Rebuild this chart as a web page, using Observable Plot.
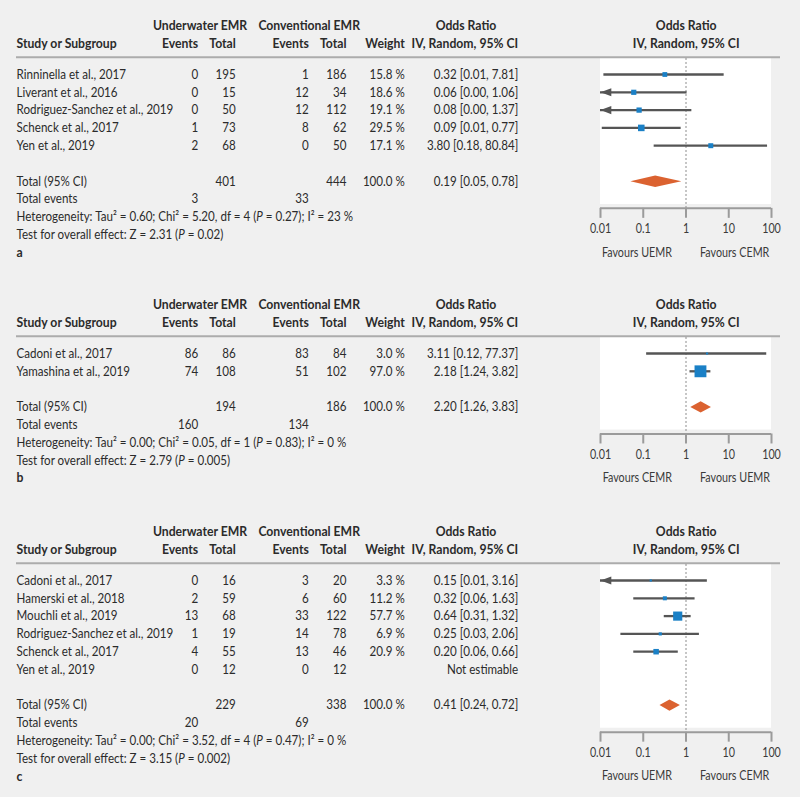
<!DOCTYPE html>
<html><head><meta charset="utf-8">
<script src="https://cdn.jsdelivr.net/npm/d3@7"></script>
<script src="https://cdn.jsdelivr.net/npm/@observablehq/plot@0.6"></script>
<style>
html,body{margin:0;padding:0;background:#f0f0f0;}
#chart{width:800px;}
#chart svg{display:block;}
</style></head><body><div id="chart"></div>
<script>
// ---------- data ----------
const xTicks = [0.01, 0.1, 1, 10, 100];
const xTickLabels = ["0.01", "0.1", "1", "10", "100"];

// panel a
const studiesA = ["Rinninella et al., 2017", "Liverant et al., 2016", "Rodriguez-Sanchez et al., 2019", "Schenck et al., 2017", "Yen et al., 2019"];
const uEventsA = [0, 0, 0, 1, 2];
const uTotalA = [195, 15, 50, 73, 68];
const cEventsA = [1, 12, 12, 8, 0];
const cTotalA = [186, 34, 112, 62, 50];
const weightA = [15.8, 18.6, 19.1, 29.5, 17.1];
const orA = [0.32, 0.06, 0.08, 0.09, 3.80];
const loA = [0.012, 0.003, 0.004, 0.011, 0.18];
const hiA = [7.81, 1.06, 1.37, 0.77, 80.84];
const totalsA = [401, 444];
const totalWeightA = 100.0;
const totalEventsA = [3, 33];
const pooledA = [0.19, 0.05, 0.78];
const hetA = "Heterogeneity: Tau² = 0.60; Chi² = 5.20, df = 4 (P = 0.27); I² = 23 %";
const testA = "Test for overall effect: Z = 2.31 (P = 0.02)";
const favoursA = ["Favours UEMR", "Favours CEMR"];

// panel b
const studiesB = ["Cadoni et al., 2017", "Yamashina et al., 2019"];
const uEventsB = [86, 74];
const uTotalB = [86, 108];
const cEventsB = [83, 51];
const cTotalB = [84, 102];
const weightB = [3.0, 97.0];
const orB = [3.11, 2.18];
const loB = [0.12, 1.24];
const hiB = [77.37, 3.82];
const totalsB = [194, 186];
const totalWeightB = 100.0;
const totalEventsB = [160, 134];
const pooledB = [2.20, 1.26, 3.83];
const hetB = "Heterogeneity: Tau² = 0.00; Chi² = 0.05, df = 1 (P = 0.83); I² = 0 %";
const testB = "Test for overall effect: Z = 2.79 (P = 0.005)";
const favoursB = ["Favours CEMR", "Favours UEMR"];

// panel c
const studiesC = ["Cadoni et al., 2017", "Hamerski et al., 2018", "Mouchli et al., 2019", "Rodriguez-Sanchez et al., 2019", "Schenck et al., 2017", "Yen et al., 2019"];
const uEventsC = [0, 2, 13, 1, 4, 0];
const uTotalC = [16, 59, 68, 19, 55, 12];
const cEventsC = [3, 6, 33, 14, 13, 0];
const cTotalC = [20, 60, 122, 78, 46, 12];
const weightC = [3.3, 11.2, 57.7, 6.9, 20.9, null];
const orC = [0.15, 0.32, 0.64, 0.25, 0.20, null];
const loC = [0.007, 0.06, 0.31, 0.03, 0.06, null];
const hiC = [3.16, 1.63, 1.32, 2.06, 0.66, null];
const totalsC = [229, 338];
const totalWeightC = 100.0;
const totalEventsC = [20, 69];
const pooledC = [0.41, 0.24, 0.72];
const hetC = "Heterogeneity: Tau² = 0.00; Chi² = 3.52, df = 4 (P = 0.47); I² = 0 %";
const testC = "Test for overall effect: Z = 3.15 (P = 0.002)";
const favoursC = ["Favours UEMR", "Favours CEMR"];

// ---------- layout ----------
const ML = 16, MR = 20, ROW0 = 74, STEP = 17.8;
const H1 = -2.76, H2 = -1.74;
const COL = {study: 16, ue: 197.7, ut: 235.3, ce: 308.3, ct: 346, w: 404.3, or: 517.7,
             uHead: 199.5, cHead: 308.7, orHead: 465.5, plotHead: 685.7};
const FONT = "Lato, 'Open Sans', sans-serif";
const TEXT = "#2b2b2b", LINE = "#555555", BLUE = "#1a80c6", ORANGE = "#db6230", AXIS = "#9b9b9b";

const arrowLeft = {draw(ctx, size) {
  const r = Math.sqrt(size / Math.PI);
  ctx.moveTo(0, 0); ctx.lineTo(2.4 * r, -0.9 * r); ctx.lineTo(2.4 * r, 0.9 * r); ctx.closePath();
}};

const panels = [
  {letter: "a", H: 279, studies: studiesA, ue: uEventsA, ut: uTotalA, ce: cEventsA, ct: cTotalA, w: weightA, or: orA, lo: loA, hi: hiA, totals: totalsA, tw: totalWeightA, tev: totalEventsA, pooled: pooledA, het: hetA, test: testA, fav: favoursA},
  {letter: "b", H: 227, studies: studiesB, ue: uEventsB, ut: uTotalB, ce: cEventsB, ct: cTotalB, w: weightB, or: orB, lo: loB, hi: hiB, totals: totalsB, tw: totalWeightB, tev: totalEventsB, pooled: pooledB, het: hetB, test: testB, fav: favoursB},
  {letter: "c", H: 291, studies: studiesC, ue: uEventsC, ut: uTotalC, ce: cEventsC, ct: cTotalC, w: weightC, or: orC, lo: loC, hi: hiC, totals: totalsC, tw: totalWeightC, tev: totalEventsC, pooled: pooledC, het: hetC, test: testC, fav: favoursC}
];

const fmtCI = (o, l, h) => `${o.toFixed(2)} [${l.toFixed(2)}, ${h.toFixed(2)}]`;

function lab(y, str, col, anchor = "end", extra = {}) {
  return Plot.text([str], {y: () => y, text: d => d, frameAnchor: "left", dx: col - ML, textAnchor: anchor, ...extra});
}
function colText(data, text, col, anchor = "end", extra = {}) {
  return Plot.text(data, {y: "i", text, frameAnchor: "left", dx: col - ML, textAnchor: anchor, ...extra});
}

function makePanel(p) {
  const n = p.studies.length;
  const rows = p.studies.map((s, i) => ({i, s, ue: p.ue[i], ut: p.ut[i], ce: p.ce[i], ct: p.ct[i], w: p.w[i], or: p.or[i], lo: p.lo[i], hi: p.hi[i]}));
  const est = rows.filter(d => d.or != null);
  const nonEst = rows.filter(d => d.or == null);
  const tRow = n + 1, eRow = n + 2, hRow = n + 3, zRow = n + 4, lRow = n + 5;
  const axisRow = tRow + 1.52;
  const axisPix = ROW0 + axisRow * STEP;
  const [po, pl, ph] = p.pooled;
  const dh = 0.32;
  const diamond = [{x: pl, y: tRow}, {x: po, y: tRow - dh}, {x: ph, y: tRow}, {x: po, y: tRow + dh}];
  const bold = {fontWeight: "bold"};

  return Plot.plot({
    width: 800, height: p.H,
    marginLeft: ML, marginRight: MR, marginTop: 0, marginBottom: p.H - axisPix,
    x: {type: "log", domain: [xTicks[0], xTicks[xTicks.length - 1]], range: [600, 771], axis: null},
    y: {domain: [0, lRow], range: [ROW0, ROW0 + lRow * STEP], axis: null},
    r: {type: "sqrt", domain: [0, 100], range: [0, 6.8]},
    style: {fontFamily: FONT, fontSize: "13.5px", color: TEXT, background: "transparent", overflow: "visible"},
    marks: [
      // white plotting panel
      Plot.rect([0], {x1: () => xTicks[0], x2: () => xTicks[xTicks.length - 1], y1: () => -0.9, y2: () => axisRow - 0.22, fill: "white"}),
      // header separator
      Plot.ruleY([-0.97], {stroke: "#acacac", strokeWidth: 2}),
      // line of no effect
      Plot.ruleX([1], {y1: () => -0.9, y2: () => axisRow, stroke: "#8c8c8c", strokeWidth: 1, strokeDasharray: "2,2"}),
      // axis
      Plot.ruleY([axisRow], {x1: () => xTicks[0], x2: () => xTicks[xTicks.length - 1], stroke: AXIS, strokeWidth: 2}),
      Plot.axisX({anchor: "bottom", ticks: xTicks, tickFormat: d => xTickLabels[xTicks.indexOf(d)], tickSize: 10, tickPadding: 6, stroke: AXIS, strokeWidth: 2, fill: "#3a3a3a", fontSize: 12.5, label: null}),
      // CIs
      Plot.ruleY(est, {y: "i", x1: d => Math.max(d.lo, xTicks[0]), x2: "hi", stroke: LINE, strokeWidth: 2.3}),
      Plot.dot(est.filter(d => d.lo < xTicks[0]), {x: () => xTicks[0], y: "i", r: 4.5, symbol: arrowLeft, fill: LINE, stroke: "none"}),
      Plot.dot(est, {x: "or", y: "i", r: "w", symbol: "square", fill: BLUE, stroke: "none"}),
      // pooled diamond
      Plot.line(diamond, {x: "x", y: "y", curve: "linear-closed", fill: ORANGE, stroke: "none"}),
      // headers
      lab(H1, "Underwater EMR", COL.uHead, "middle", bold),
      lab(H1, "Conventional EMR", COL.cHead, "middle", bold),
      lab(H1, "Odds Ratio", COL.orHead, "middle", bold),
      lab(H1, "Odds Ratio", COL.plotHead, "middle", bold),
      lab(H2, "Study or Subgroup", COL.study, "start", bold),
      lab(H2, "Events", COL.ue, "end", bold),
      lab(H2, "Total", COL.ut, "end", bold),
      lab(H2, "Events", COL.ce, "end", bold),
      lab(H2, "Total", COL.ct, "end", bold),
      lab(H2, "Weight", COL.w, "end", bold),
      lab(H2, "IV, Random, 95% CI", COL.or, "end", bold),
      lab(H2, "IV, Random, 95% CI", COL.plotHead, "middle", bold),
      // study rows
      colText(rows, "s", COL.study, "start"),
      colText(rows, "ue", COL.ue),
      colText(rows, "ut", COL.ut),
      colText(rows, "ce", COL.ce),
      colText(rows, "ct", COL.ct),
      colText(est, d => d.w.toFixed(1) + " %", COL.w),
      colText(est, d => fmtCI(d.or, d.lo, d.hi), COL.or),
      colText(nonEst, () => "Not estimable", COL.or),
      // totals
      lab(tRow, "Total (95% CI)", COL.study, "start"),
      lab(tRow, String(p.totals[0]), COL.ut),
      lab(tRow, String(p.totals[1]), COL.ct),
      lab(tRow, p.tw.toFixed(1) + " %", COL.w),
      lab(tRow, fmtCI(po, pl, ph), COL.or),
      lab(eRow, "Total events", COL.study, "start"),
      lab(eRow, String(p.tev[0]), COL.ue),
      lab(eRow, String(p.tev[1]), COL.ce),
      lab(hRow, p.het, COL.study, "start"),
      lab(zRow, p.test, COL.study, "start"),
      lab(lRow, p.letter, COL.study, "start", bold),
      // favours
      Plot.text([p.fav[0]], {x: () => 1, y: () => lRow, text: d => d, textAnchor: "end", dx: -14, fill: "#3a3a3a", fontSize: 12.5}),
      Plot.text([p.fav[1]], {x: () => 1, y: () => lRow, text: d => d, textAnchor: "start", dx: 14, fill: "#3a3a3a", fontSize: 12.5})
    ]
  });
}

const chart = document.getElementById("chart");
for (const p of panels) {
  const svg = makePanel(p);
  chart.appendChild(svg);
  d3.select(svg).selectAll("text").each(function() {
    const s = this.textContent;
    if (s.includes("(P =") && !this.children.length) {
      const parts = s.split("(P");
      this.textContent = "";
      const t = d3.select(this);
      t.append("tspan").text(parts[0] + "(");
      t.append("tspan").attr("font-style", "italic").text("P");
      t.append("tspan").text(parts[1]);
    }
    // the source typeface is a narrow humanist sans: condense horizontally about the anchor
    const k = (+getComputedStyle(this).fontWeight >= 600) ? 0.905 : 0.86;
    const x = +(this.getAttribute("x") || 0);
    const tr = this.getAttribute("transform") || "";
    this.setAttribute("transform", `${tr} translate(${x},0) scale(${k},1) translate(${-x},0)`);
  });
}
</script>
</body></html>
